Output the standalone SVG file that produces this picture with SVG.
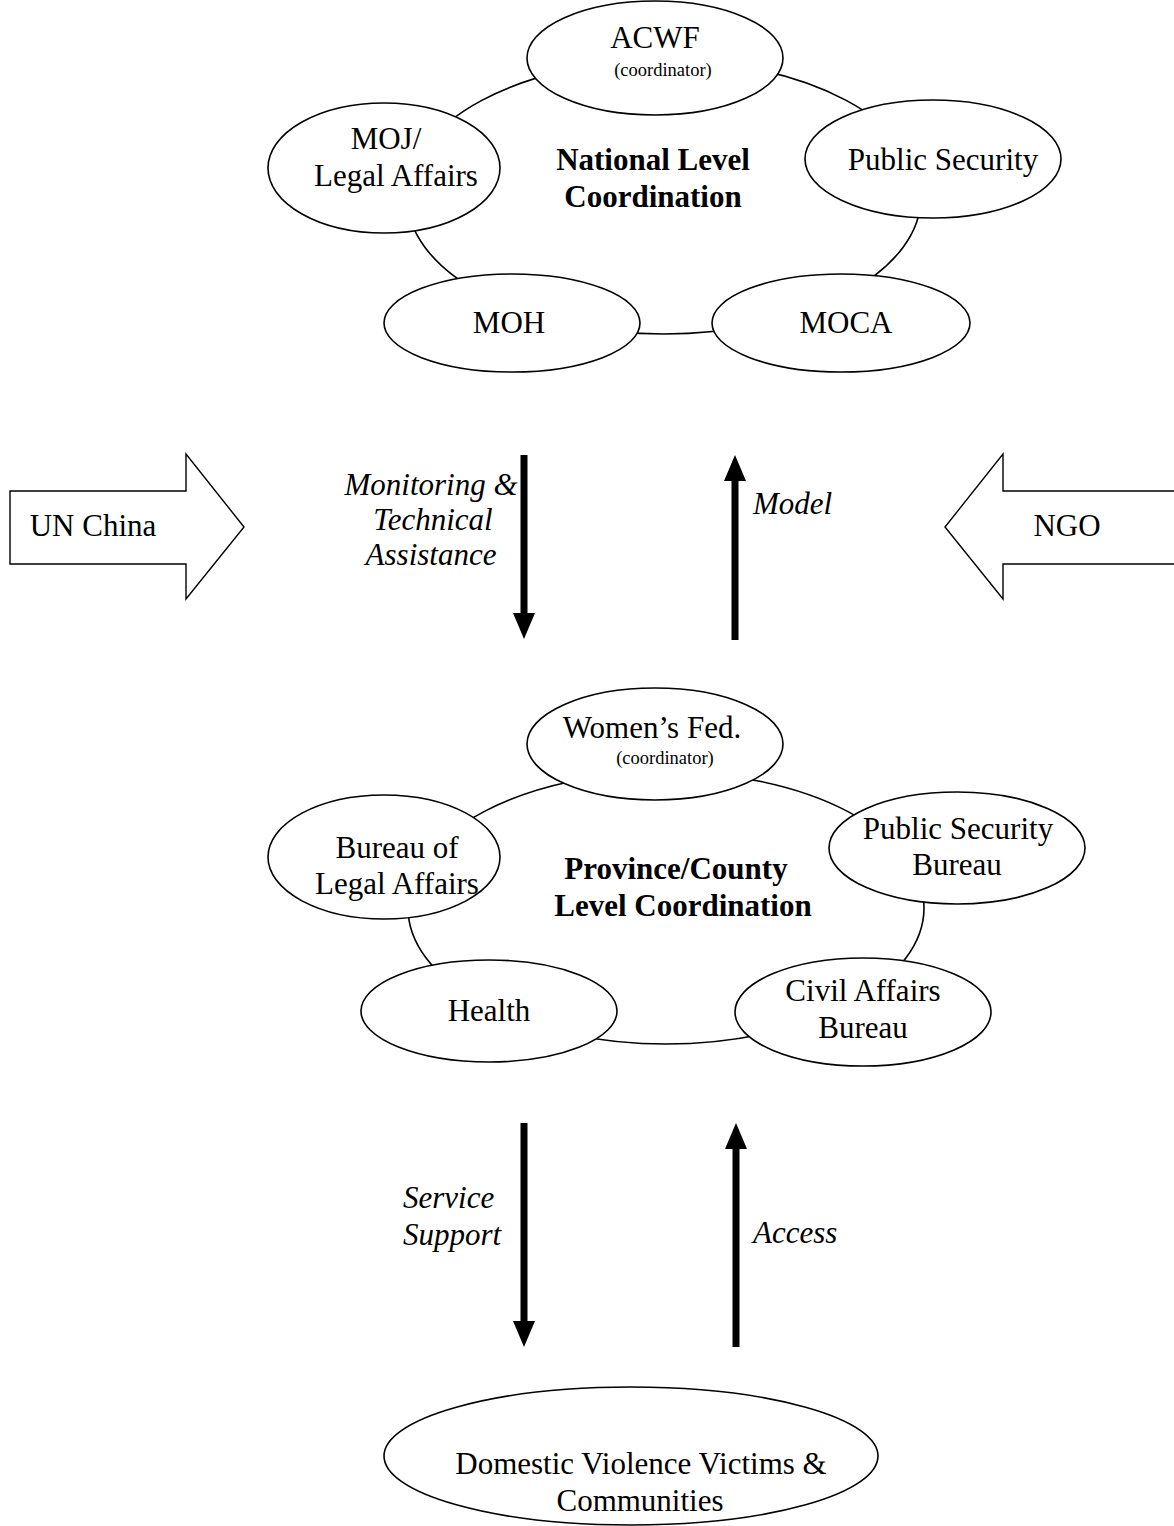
<svg xmlns="http://www.w3.org/2000/svg" width="1174" height="1526" viewBox="0 0 1174 1526">
<defs>
<style>
.bg{fill:#fff}
.ring{fill:none;stroke:#000;stroke-width:1.6}
.node{fill:#fff;stroke:#000;stroke-width:1.6}
.blk{fill:#fff;stroke:#000;stroke-width:1.4}
.t{font-family:"Liberation Serif","Times New Roman",serif;font-size:31px;fill:#000;text-anchor:middle;dominant-baseline:central}
.s{font-size:18.5px}
.b{font-weight:bold}
.i{font-style:italic}
.l{text-anchor:start}
.arr{stroke:#000;stroke-width:7;fill:none}
</style>
<marker id="head" markerUnits="userSpaceOnUse" markerWidth="26" markerHeight="22" viewBox="0 0 26 22" refX="0" refY="11" orient="auto">
<path d="M0,0 L26,11 L0,22 Z" fill="#000"/>
</marker>
</defs>
<rect class="bg" x="0" y="0" width="1174" height="1526"/>

<g id="connectors">
<ellipse class="ring" cx="664" cy="197" rx="257" ry="137"/>
<ellipse class="ring" cx="666" cy="908" rx="258" ry="136"/>
<line class="arr" x1="524" y1="455" x2="524" y2="613" marker-end="url(#head)"/>
<line class="arr" x1="735" y1="640" x2="735" y2="481" marker-end="url(#head)"/>
<line class="arr" x1="524" y1="1123" x2="524" y2="1321" marker-end="url(#head)"/>
<line class="arr" x1="736" y1="1347" x2="736" y2="1149" marker-end="url(#head)"/>
<text class="t i" x="431" y="484">Monitoring &amp;</text>
<text class="t i" x="433" y="519">Technical</text>
<text class="t i" x="431" y="554">Assistance</text>
<text class="t i l" x="753" y="503">Model</text>
<text class="t i l" x="403" y="1197">Service</text>
<text class="t i l" x="403" y="1234">Support</text>
<text class="t i l" x="753" y="1232">Access</text>
</g>

<g id="national-center">
<text class="t b" x="653" y="159">National Level</text>
<text class="t b" x="653" y="196">Coordination</text>
</g>
<g id="acwf">
<ellipse class="node" cx="655" cy="58" rx="128" ry="57"/>
<text class="t" x="655" y="37">ACWF</text>
<text class="t s" x="663" y="70">(coordinator)</text>
</g>
<g id="moj">
<ellipse class="node" cx="384" cy="168" rx="116" ry="65"/>
<text class="t" x="386" y="138">MOJ/</text>
<text class="t" x="396" y="175">Legal Affairs</text>
</g>
<g id="public-security">
<ellipse class="node" cx="933" cy="159" rx="128" ry="59"/>
<text class="t" x="943" y="159">Public Security</text>
</g>
<g id="moh">
<ellipse class="node" cx="512" cy="323" rx="128" ry="49"/>
<text class="t" x="509" y="322">MOH</text>
</g>
<g id="moca">
<ellipse class="node" cx="841" cy="323" rx="129" ry="49"/>
<text class="t" x="846" y="322">MOCA</text>
</g>

<g id="un-china">
<polygon class="blk" points="10,491 186,491 186,454 244,527 186,599 186,564 10,564"/>
<text class="t" x="93" y="525">UN China</text>
</g>
<g id="ngo">
<polygon class="blk" points="1176,491 1003,491 1003,454 945,527 1003,599 1003,564 1176,564"/>
<text class="t" x="1067" y="525">NGO</text>
</g>

<g id="province-center">
<text class="t b" x="676" y="868">Province/County</text>
<text class="t b" x="683" y="905">Level Coordination</text>
</g>
<g id="womens-fed">
<ellipse class="node" cx="655" cy="744" rx="128" ry="56"/>
<text class="t" x="652" y="727">Women’s Fed.</text>
<text class="t s" x="665" y="758">(coordinator)</text>
</g>
<g id="bureau-legal">
<ellipse class="node" cx="384" cy="857" rx="116" ry="62"/>
<text class="t" x="397" y="847">Bureau of</text>
<text class="t" x="397" y="883">Legal Affairs</text>
</g>
<g id="psb">
<ellipse class="node" cx="957" cy="848" rx="128" ry="56"/>
<text class="t" x="958" y="828">Public Security</text>
<text class="t" x="957" y="864">Bureau</text>
</g>
<g id="health">
<ellipse class="node" cx="489" cy="1011" rx="128" ry="51"/>
<text class="t" x="489" y="1010">Health</text>
</g>
<g id="civil-affairs">
<ellipse class="node" cx="863" cy="1012" rx="128" ry="54"/>
<text class="t" x="863" y="990">Civil Affairs</text>
<text class="t" x="863" y="1027">Bureau</text>
</g>

<g id="victims">
<ellipse class="node" cx="631" cy="1456" rx="247" ry="69"/>
<text class="t" x="641" y="1463">Domestic Violence Victims &amp;</text>
<text class="t" x="640" y="1500">Communities</text>
</g>
</svg>
